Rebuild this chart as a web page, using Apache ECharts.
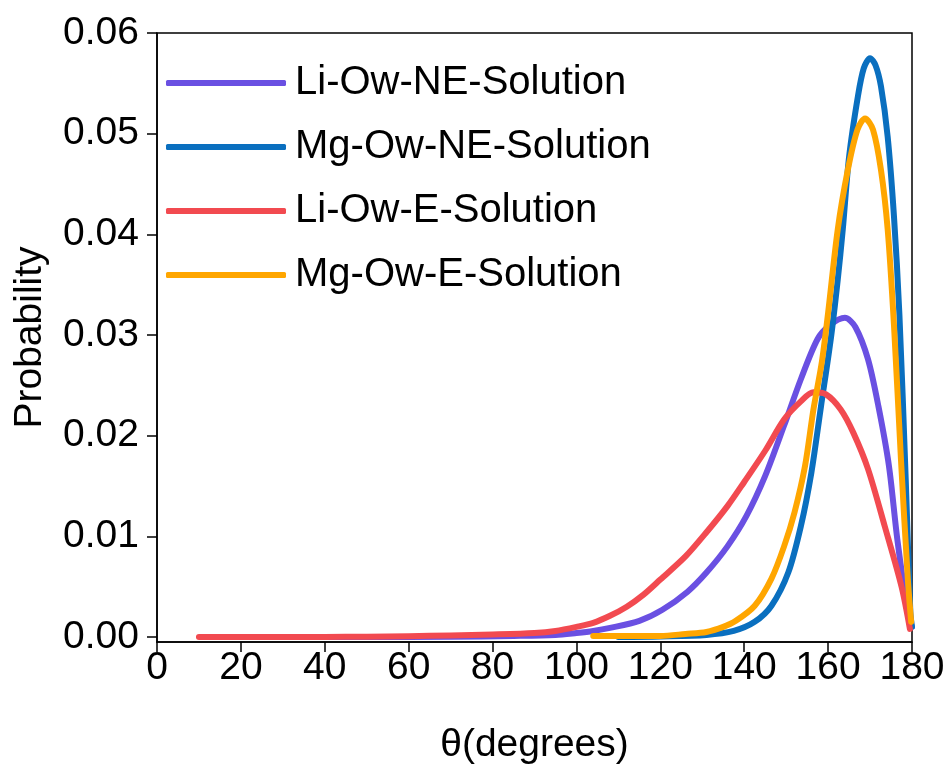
<!DOCTYPE html>
<html>
<head>
<meta charset="utf-8">
<script src="https://cdn.jsdelivr.net/npm/echarts@6/dist/echarts.min.js"></script>
<style>
  html, body { margin: 0; padding: 0; background: #fff; }
  #main { width: 949px; height: 770px; }
</style>
</head>
<body>
<div id="main"></div>
<script>
// 数据
var seriesNames = ['Li-Ow-NE-Solution', 'Mg-Ow-NE-Solution', 'Li-Ow-E-Solution', 'Mg-Ow-E-Solution'];

var liNeAngles = [30, 50, 70, 85, 95, 100, 104, 108, 115, 120.5, 126.5, 131, 136, 140.5, 145, 149.5, 153.5, 157.5, 160.5, 164, 166.5, 169.5, 172, 174.5, 176.5, 179, 180];
var liNeValues = [0, 0, 0.00002, 0.0001, 0.0002, 0.0004, 0.0006, 0.0009, 0.0016, 0.0027, 0.0045, 0.0064, 0.009, 0.012, 0.016, 0.021, 0.0256, 0.0296, 0.031, 0.0317, 0.0308, 0.0276, 0.0229, 0.017, 0.0097, 0.0025, 0.001];

var mgNeAngles = [110, 120, 131, 137.5, 142.5, 146.5, 150.5, 153.5, 156, 158.3, 160.7, 162.3, 163.5, 165, 167.1, 168.5, 170, 171.3, 172.6, 174.2, 175.7, 177, 178.5, 179.6, 180];
var mgNeValues = [0, 0.00005, 0.0002, 0.0006, 0.0015, 0.0031, 0.0064, 0.011, 0.0163, 0.0229, 0.0298, 0.0355, 0.0405, 0.0477, 0.0537, 0.0565, 0.0575, 0.0568, 0.0547, 0.0497, 0.0418, 0.032, 0.0157, 0.0025, 0.001];

var liEAngles = [10, 20, 30, 40, 50, 60, 70, 80, 90, 95, 100, 104, 108, 112, 116, 120, 126, 131, 136, 140, 145, 149.5, 153.5, 156.5, 159.5, 163, 166, 169.5, 173.5, 177.5, 179.5];
var liEValues = [0, 0, 0, 0, 0.00003, 0.00008, 0.00015, 0.00025, 0.0004, 0.0006, 0.001, 0.0014, 0.0021, 0.003, 0.0042, 0.0057, 0.008, 0.0104, 0.013, 0.0154, 0.0185, 0.0216, 0.0234, 0.0243, 0.0241, 0.0226, 0.0203, 0.0167, 0.011, 0.005, 0.0008];

var mgEAngles = [104, 110, 120, 126, 131, 135, 138, 142.5, 146.5, 149.5, 152, 154.5, 156.5, 158.5, 160, 162.3, 164.7, 167, 168.8, 170.7, 172.6, 174.2, 175.7, 177.4, 179, 179.8];
var mgEValues = [0.0001, 0.0001, 0.0001, 0.0003, 0.0005, 0.001, 0.0016, 0.0031, 0.0058, 0.009, 0.0124, 0.017, 0.0226, 0.0273, 0.0322, 0.0405, 0.0464, 0.0504, 0.0515, 0.0504, 0.0464, 0.0405, 0.031, 0.0174, 0.0058, 0.0015];

var yTicks = [0, 0.01, 0.02, 0.03, 0.04, 0.05, 0.06];

var colors = ['#6a50e2', '#0a6fbf', '#f24a50', '#ffa600'];

function pairs(xs, ys) {
  var out = [];
  for (var i = 0; i < xs.length; i++) out.push([xs[i], ys[i]]);
  return out;
}

var allData = [
  pairs(liNeAngles, liNeValues),
  pairs(mgNeAngles, mgNeValues),
  pairs(liEAngles, liEValues),
  pairs(mgEAngles, mgEValues)
];

var font = 'Liberation Sans, Arial, sans-serif';
var myChart = echarts.init(document.getElementById('main'));

var series = [];
for (var k = 0; k < seriesNames.length; k++) {
  series.push({
    name: seriesNames[k],
    type: 'line',
    data: allData[k],
    showSymbol: false,
    symbol: 'none',
    smooth: 0.3,
    lineStyle: { color: colors[k], width: 6, cap: 'round', join: 'round' },
    itemStyle: { color: colors[k] }
  });
}

var option = {
  animation: false,
  backgroundColor: '#fff',
  grid: {
    left: 157, right: 37, top: 33, bottom: 127,
    show: true, borderColor: '#000', borderWidth: 1.5, backgroundColor: 'transparent'
  },
  legend: {
    orient: 'vertical',
    left: 166, top: 63,
    padding: 0,
    itemGap: 24,
    itemWidth: 120,
    itemHeight: 6,
    icon: 'roundRect',
    textStyle: { fontSize: 40, fontFamily: font, color: '#000', lineHeight: 40, padding: [0, 0, 0, 4] },
    data: seriesNames
  },
  xAxis: {
    type: 'value',
    min: 0, max: 180, interval: 20,
    name: 'θ(degrees)',
    nameLocation: 'middle',
    nameGap: 84,
    nameTextStyle: { fontSize: 39, fontFamily: font, color: '#000' },
    axisLine: { show: true, onZero: false, lineStyle: { color: '#000', width: 1.5 } },
    axisTick: { show: true, inside: false, length: 10, lineStyle: { color: '#000', width: 1.5 } },
    axisLabel: { fontSize: 39, fontFamily: font, color: '#000', margin: 7 },
    splitLine: { show: false }
  },
  yAxis: {
    type: 'value',
    min: -0.0005, max: 0.06,
    name: 'Probability',
    nameLocation: 'middle',
    nameGap: 107,
    nameTextStyle: { fontSize: 39, fontFamily: font, color: '#000' },
    axisLine: { show: true, onZero: false, lineStyle: { color: '#000', width: 1.5 } },
    axisTick: { show: true, inside: false, length: 10, customValues: yTicks, lineStyle: { color: '#000', width: 1.5 } },
    axisLabel: {
      fontSize: 39, fontFamily: font, color: '#000', margin: 18,
      customValues: yTicks,
      formatter: function (v) { return v.toFixed(2); }
    },
    splitLine: { show: false }
  },
  series: series
};

myChart.setOption(option);
</script>
</body>
</html>
